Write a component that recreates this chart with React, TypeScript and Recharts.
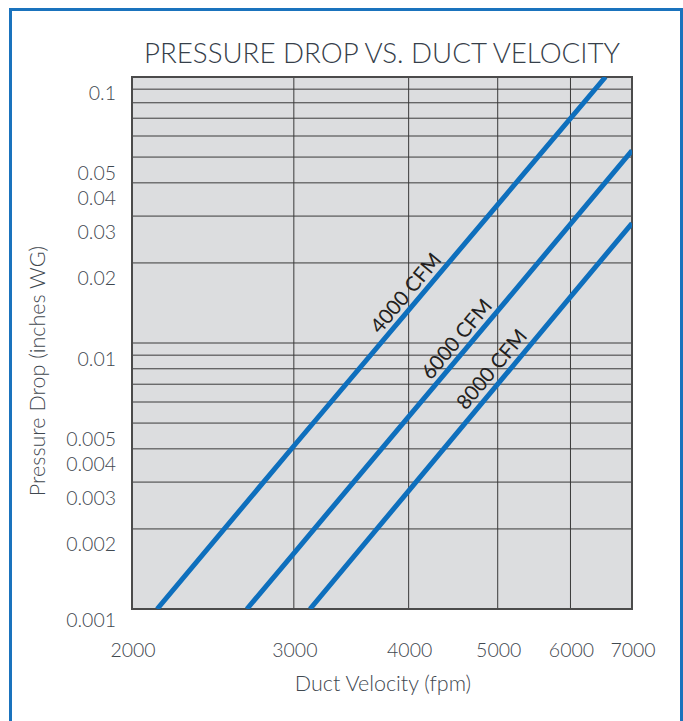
import React from 'react';
import { LineChart, Line, XAxis, YAxis, CartesianGrid, ReferenceArea, ReferenceDot, Label } from 'recharts';

// ---- data ----
const velocityTicks = [2000, 3000, 4000, 5000, 6000, 7000];
const pressureGrid = [
  0.001, 0.002, 0.003, 0.004, 0.005, 0.006, 0.007, 0.008, 0.009,
  0.01, 0.02, 0.03, 0.04, 0.05, 0.06, 0.07, 0.08, 0.09, 0.1,
];
const pressureLabels = [0.001, 0.002, 0.003, 0.004, 0.005, 0.01, 0.02, 0.03, 0.04, 0.05, 0.1];

const cfm4000 = [
  { v: 2130, p: 0.001 },
  { v: 3000, p: 0.0041 },
  { v: 4000, p: 0.0133 },
  { v: 6550, p: 0.1 },
];
const cfm6000 = [
  { v: 2667, p: 0.001 },
  { v: 3000, p: 0.00162 },
  { v: 4000, p: 0.00529 },
  { v: 5000, p: 0.0132 },
  { v: 7000, p: 0.0529 },
];
const cfm8000 = [
  { v: 3124, p: 0.001 },
  { v: 4000, p: 0.00278 },
  { v: 5000, p: 0.007 },
  { v: 6000, p: 0.0149 },
  { v: 7000, p: 0.0282 },
];

const curveNames = ['4000 CFM', '6000 CFM', '8000 CFM'];
const labelVelocity = [3965, 4504, 4917];
const labelPressure = [0.0155, 0.0104, 0.008];

const FONT = "Lato, 'Open Sans', sans-serif";
const TEXT = '#3f4850';
const BLUE = '#0e6fbd';

const YTick = (props: any) => {
  const { x, y, payload } = props;
  const v = payload.value;
  if (!pressureLabels.some((l) => Math.abs(l - v) < 1e-9)) return <g />;
  const dy = v === 0.001 ? 10 : 15;
  return (
    <text x={x} y={y + dy} textAnchor="end" dominantBaseline="central" fill={TEXT} fontSize={19.5} fontFamily={FONT} fontWeight={300}>
      {String(v)}
    </text>
  );
};

const XTick = (props: any) => {
  const { x, y, payload } = props;
  return (
    <text x={x + 1} y={y + 40} textAnchor="middle" dominantBaseline="central" fill={TEXT} fontSize={19.5} fontFamily={FONT} fontWeight={300}>
      {String(payload.value)}
    </text>
  );
};

const curveLabel = (name: string) => (props: any) => {
  const vb = props.viewBox || {};
  const cx = (vb.x || 0) + (vb.width || 0) / 2;
  const cy = (vb.y || 0) + (vb.height || 0) / 2;
  return (
    <text
      x={cx}
      y={cy}
      textAnchor="middle"
      dominantBaseline="central"
      transform={`rotate(-50 ${cx} ${cy})`}
      fill="#231f20"
      fontSize={20.5}
      fontFamily={FONT}
    >
      {name}
    </text>
  );
};

export default function App() {
  const series = [cfm4000, cfm6000, cfm8000];
  return (
    <div style={{ position: 'absolute', left: 0, top: 0, width: 683, height: 721, overflow: 'hidden', background: '#fff' }}>
      <div
        style={{
          position: 'absolute',
          left: 9,
          top: 8,
          width: 674,
          height: 760,
          boxSizing: 'border-box',
          border: '3px solid #1a73bd',
        }}
      />
      <div style={{ position: 'absolute', left: 0, top: 0 }}>
        <LineChart width={683} height={721} margin={{ top: 77, right: 51, bottom: 82, left: 72 }}>
          <CartesianGrid fill="#dcdddf" stroke="#3a3a3a" strokeWidth={1} horizontalValues={pressureGrid} verticalValues={velocityTicks} />
          <XAxis
            dataKey="v"
            type="number"
            scale="log"
            domain={[2000, 7000]}
            ticks={velocityTicks}
            allowDataOverflow
            height={30}
            tickLine={false}
            tickSize={0}
            tickMargin={0}
            axisLine={false}
            tick={<XTick />}
            interval={0}
          />
          <YAxis
            dataKey="p"
            type="number"
            scale="log"
            domain={[0.001, 0.1]}
            ticks={pressureGrid}
            allowDataOverflow
            width={60}
            tickLine={false}
            tickSize={0}
            tickMargin={16}
            axisLine={false}
            tick={<YTick />}
            interval={0}
          />
          {series.map((d, i) => (
            <Line
              key={curveNames[i]}
              data={d}
              dataKey="p"
              type="linear"
              stroke={BLUE}
              strokeWidth={5}
              dot={false}
              activeDot={false}
              isAnimationActive={false}
            />
          ))}
          <ReferenceArea x1={2000} x2={7000} y1={0.001} y2={0.1} fill="#000" fillOpacity={0} stroke="#4b4b4b" strokeWidth={2} ifOverflow="visible" />
          {curveNames.map((n, i) => (
            <ReferenceDot
              key={n}
              x={labelVelocity[i]}
              y={labelPressure[i]}
              r={1}
              fill="none"
              stroke="none"
              label={<Label content={curveLabel(n)} />}
            />
          ))}
        </LineChart>
      </div>
      <svg width={683} height={721} style={{ position: 'absolute', left: 0, top: 0, pointerEvents: 'none' }}>
        <text x={382} y={52} textAnchor="middle" dominantBaseline="central" fill="#36404a" fontSize={27.7} fontFamily={FONT} fontWeight={300}>
          PRESSURE DROP VS. DUCT VELOCITY
        </text>
        <text x={383} y={683} textAnchor="middle" dominantBaseline="central" fill={TEXT} fontSize={21.5} fontFamily={FONT} fontWeight={300}>
          Duct Velocity (fpm)
        </text>
        <text x={37} y={371} textAnchor="middle" dominantBaseline="central" transform="rotate(-90 37 371)" fill={TEXT} fontSize={21.5} fontFamily={FONT} fontWeight={300}>
          Pressure Drop (inches WG)
        </text>
      </svg>
    </div>
  );
}
